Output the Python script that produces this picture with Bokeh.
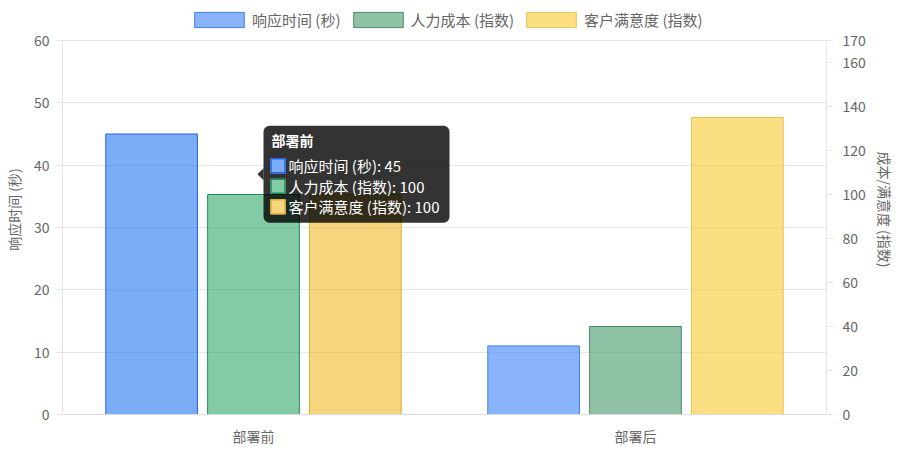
from bokeh.plotting import figure
from bokeh.models import (Range1d, LinearAxis, FixedTicker, Legend,
                          LegendItem, ColumnDataSource, BoxAnnotation)
from bokeh.core.properties import value
from bokeh.embed import file_html
from bokeh.resources import INLINE

# ---------------- data ----------------
categories = ["部署前", "部署后"]
response_time = [45, 11]      # left axis (秒)
labor_cost = [100, 40]        # right axis (指数)
satisfaction = [100, 135]     # right axis (指数)
series_names = ["响应时间 (秒)", "人力成本 (指数)", "客户满意度 (指数)"]
left_ticks = [0, 10, 20, 30, 40, 50, 60]
right_ticks = [0, 20, 40, 60, 80, 100, 120, 140, 160, 170]
left_title = "响应时间 (秒)"
right_title = "成本/满意度 (指数)"
hover_index = 0  # the category under the tooltip

# ---------------- style / layout ----------------
FONT = "Noto Sans CJK SC"
W, H = 900, 450
ML, MR, MT, MB = 62, 74, 4, 36
FW, FH = W - ML - MR, H - MT - MB     # frame (includes legend strip on top)
DH = 374                              # height of the data area inside the frame
LMAX, RMAX = 60, 170
k = FH / DH

fills = ["rgba(59,130,246,0.6)", "rgba(46,139,87,0.53)", "rgba(252,196,25,0.54)"]
hover_fills = ["rgba(40,120,240,0.61)", "rgba(30,160,90,0.55)", "rgba(237,180,20,0.545)"]
borders = ["#3B82F6", "#4B8A69", "#E3C35A"]
hover_borders = ["#2563EB", "#218A5A", "#E5B02A"]
GRID = "#e6e6e6"
TXT = "#666666"

ncat = len(categories)
cat_pos = [c + 0.5 for c in range(ncat)]

p = figure(width=W, height=H,
           x_range=Range1d(0, ncat),
           y_range=Range1d(0, LMAX * k),
           output_backend="svg", toolbar_location=None,
           min_border_left=ML, min_border_right=MR,
           min_border_top=MT, min_border_bottom=MB)
p.extra_y_ranges = {"right": Range1d(0, RMAX * k), "py": Range1d(0, FH)}
p.extra_x_ranges = {"px": Range1d(0, FW)}
p.outline_line_color = None
p.background_fill_color = "white"
p.border_fill_color = "white"

series = [response_time, labor_cost, satisfaction]
ranges = ["default", "right", "right"]
n = len(series)
group = 0.8
slot = group / n
bar_w = slot * 0.9

renderers = []
for i, vals in enumerate(series):
    fc = [hover_fills[i] if j == hover_index else fills[i] for j in range(ncat)]
    lc = [hover_borders[i] if j == hover_index else borders[i] for j in range(ncat)]
    off = -group / 2 + slot * (i + 0.5)
    src = ColumnDataSource(dict(x=[c + off for c in cat_pos], v=vals, fc=fc, lc=lc))
    r = p.vbar(x="x", top="v", width=bar_w, bottom=0,
               source=src, fill_color="fc", line_color="lc", line_width=1,
               y_range_name=ranges[i])
    renderers.append(r)

# ---------------- axes ----------------
def style_axis(ax):
    ax.axis_line_color = GRID
    ax.major_tick_line_color = GRID
    ax.minor_tick_line_color = None
    ax.major_tick_in = 0
    ax.major_tick_out = 7
    ax.major_label_text_font = FONT
    ax.major_label_text_font_size = "14px"
    ax.major_label_text_color = TXT
    ax.axis_label_text_font = FONT
    ax.axis_label_text_font_size = "14px"
    ax.axis_label_text_font_style = "normal"
    ax.axis_label_text_color = TXT

ly = p.yaxis[0]
style_axis(ly)
ly.ticker = FixedTicker(ticks=left_ticks)
ly.bounds = (0, LMAX)
ly.axis_label = left_title
ly.major_label_standoff = 6
ly.axis_label_standoff = 7

ry = LinearAxis(y_range_name="right", ticker=FixedTicker(ticks=right_ticks),
                axis_label=right_title, bounds=(0, RMAX))
style_axis(ry)
ry.major_label_standoff = 9
ry.axis_label_standoff = 6
p.add_layout(ry, "right")

bx = p.xaxis[0]
style_axis(bx)
bx.ticker = FixedTicker(ticks=cat_pos)
bx.major_label_overrides = {c: lab for c, lab in zip(cat_pos, categories)}
bx.major_tick_out = 0
bx.major_tick_line_color = None
bx.major_label_standoff = 11
bx.axis_line_color = "#dddddd"

p.ygrid.ticker = FixedTicker(ticks=left_ticks)
p.ygrid.grid_line_color = GRID
p.xgrid.visible = False

# ---------------- legend (in the strip above the data area) ----------------
items = [LegendItem(label=series_names[i], renderers=[renderers[i]], index=1) for i in range(n)]
legend = Legend(items=items, orientation="horizontal", location=(126, DH + 10),
                padding=0, margin=0, border_line_color=None, background_fill_alpha=0,
                label_text_font=FONT, label_text_font_size="15px", label_text_color=TXT,
                glyph_width=62, glyph_height=19, label_height=19,
                label_standoff=2, spacing=6)
p.add_layout(legend)

# ---------------- tooltip (for the hovered category) ----------------
ax_px = FW * cat_pos[hover_index] / ncat
tops = [response_time[hover_index] / LMAX * DH,
        labor_cost[hover_index] / RMAX * DH,
        satisfaction[hover_index] / RMAX * DH]
ay_px = sum(tops) / len(tops)

tip_w, tip_h = 186, 97
bl = ax_px + 10
bt = ay_px + tip_h / 2
box = BoxAnnotation(left=bl, right=bl + tip_w, bottom=bt - tip_h, top=bt,
                    x_range_name="px", y_range_name="py",
                    fill_color="black", fill_alpha=0.8, line_color=None,
                    border_radius=6, level="annotation")
p.add_layout(box)
p.patch(x=[ax_px + 4, bl, bl], y=[ay_px, ay_px + 6, ay_px - 6],
        x_range_name="px", y_range_name="py", fill_color="black", fill_alpha=0.8,
        line_color=None, level="annotation")

p.text(x=[bl + 8], y=[bt - 14.5], text=[categories[hover_index]],
       x_range_name="px", y_range_name="py", text_font=value(FONT),
       text_font_size="14px", text_font_style="bold", text_color="white",
       text_baseline="middle", text_align="left", level="overlay")

line_vals = [response_time[hover_index], labor_cost[hover_index], satisfaction[hover_index]]
ys = [bt - 40 - 20.5 * m for m in range(n)]
labels = [f"{series_names[m]}: {line_vals[m]}" for m in range(n)]
p.rect(x=[bl + 14.5] * n, y=ys, width=15, height=15, x_range_name="px", y_range_name="py",
       fill_color="white", line_color=None, level="overlay")
p.rect(x=[bl + 14.5] * n, y=ys, width=14, height=14, x_range_name="px", y_range_name="py",
       fill_color=hover_fills, line_color=hover_borders, line_width=1.5, level="overlay")
p.text(x=[bl + 25] * n, y=ys, text=labels, x_range_name="px", y_range_name="py",
       text_font=value(FONT), text_font_size="15px", text_color="white",
       text_baseline="middle", text_align="left", level="overlay")

open("out.html", "w").write(file_html(p, INLINE))
